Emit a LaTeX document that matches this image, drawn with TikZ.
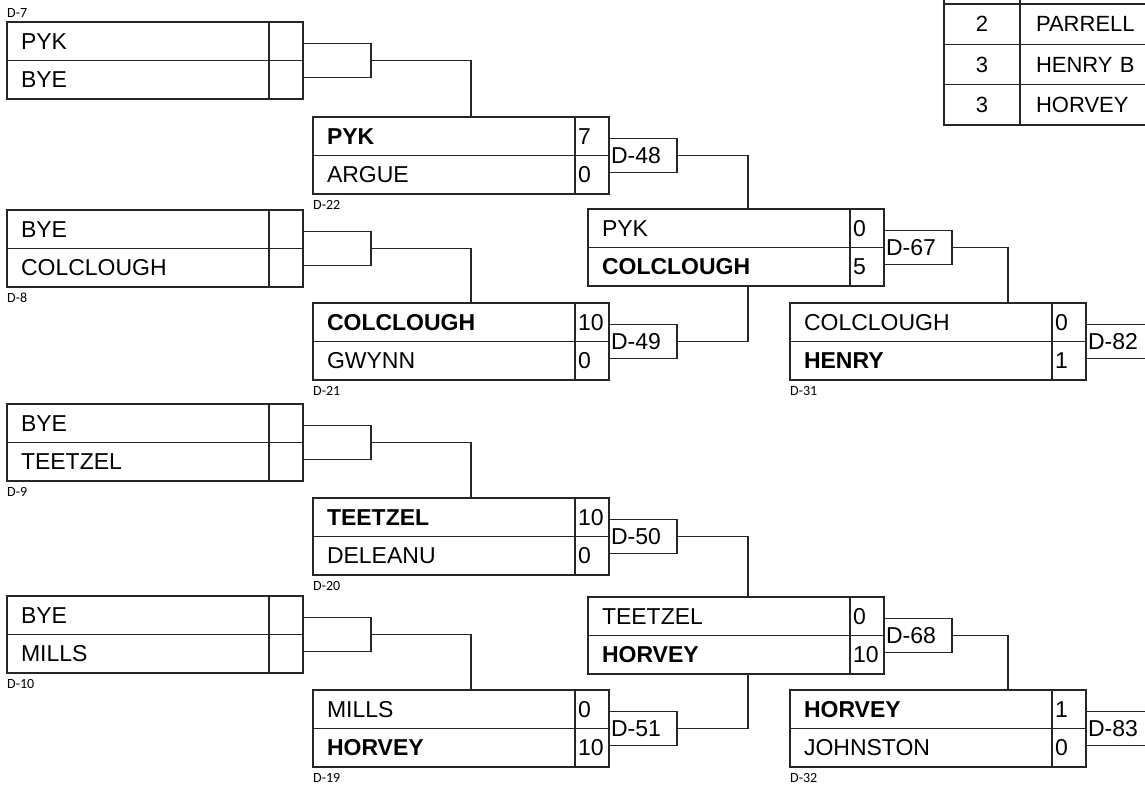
\documentclass[tikz,border=0pt]{standalone}
\usepackage{fontspec}
\setmainfont{Liberation Sans}
\newfontfamily\smallfont{Carlito}
\tikzset{
  line/.style={draw=black!85, line width=1.3pt},
  namecell/.style={line, rectangle, inner sep=0pt, outer sep=0pt, inner xsep=14pt, minimum height=38.5pt,
    text width=234pt, align=left, anchor=north west, font=\fontsize{23}{23}\selectfont},
  scorecell/.style={line, rectangle, inner sep=0pt, outer sep=0pt, inner xsep=3pt, minimum height=38.5pt,
    text width=28pt, align=left, anchor=north west, font=\fontsize{23}{23}\selectfont},
  labelbox/.style={line, rectangle, inner sep=0pt, outer sep=0pt, inner xsep=2pt, minimum height=34pt,
    text width=64pt, align=left, anchor=west, font=\fontsize{23}{23}\selectfont},
  mlabel/.style={inner sep=0pt, font=\smallfont\fontsize{14}{14}\selectfont},
  tcella/.style={line, rectangle, inner sep=0pt, outer sep=0pt, minimum width=76pt, minimum height=40.3pt,
    anchor=north west, font=\fontsize{22}{22}\selectfont},
  tcellb/.style={line, rectangle, inner sep=0pt, outer sep=0pt, inner xsep=16pt, minimum height=40.3pt,
    text width=200pt, align=left, anchor=north west, font=\fontsize{22}{22}\selectfont},
  conn/.style={line}
}
\newcommand\matchbox[8]{%
  \node[namecell] (#1-n1) at (#2,#3) {#4};
  \node[scorecell] (#1-s1) at (#1-n1.north east) {#5};
  \node[namecell] (#1-n2) at (#1-n1.south west) {#6};
  \node[scorecell] (#1-s2) at (#1-n2.north east) {#7};
  \node[labelbox] (#1-l) at (#1-s1.south east) {#8};
}
\begin{document}
\begin{tikzpicture}[x=1pt,y=-1pt]
\useasboundingbox (0,0) rectangle (1145,785);
\fill[white] (0,0) rectangle (1145,785);

% round 1
\matchbox{r1a}{7}{22}{PYK}{}{BYE}{}{}
\matchbox{r1b}{7}{210}{BYE}{}{COLCLOUGH}{}{}
\matchbox{r1c}{7}{404}{BYE}{}{TEETZEL}{}{}
\matchbox{r1d}{7}{596}{BYE}{}{MILLS}{}{}
% round 2
\matchbox{r2a}{313}{117}{\textbf{PYK}}{7}{ARGUE}{0}{D-48}
\matchbox{r2b}{313}{303}{\textbf{COLCLOUGH}}{10}{GWYNN}{0}{D-49}
\matchbox{r2c}{313}{498}{\textbf{TEETZEL}}{10}{DELEANU}{0}{D-50}
\matchbox{r2d}{313}{690}{MILLS}{0}{\textbf{HORVEY}}{10}{D-51}
% round 3
\matchbox{r3a}{588}{209}{PYK}{0}{\textbf{COLCLOUGH}}{5}{D-67}
\matchbox{r3b}{588}{597}{TEETZEL}{0}{\textbf{HORVEY}}{10}{D-68}
% round 4
\matchbox{r4a}{790}{303}{COLCLOUGH}{0}{\textbf{HENRY}}{1}{D-82}
\matchbox{r4b}{790}{690}{\textbf{HORVEY}}{1}{JOHNSTON}{0}{D-83}

% match labels
\node[mlabel, anchor=south west] (m7) at ([yshift=4pt]r1a-n1.north west) {D-7};
\node[mlabel, anchor=north west] (m8) at ([yshift=-6pt]r1b-n2.south west) {D-8};
\node[mlabel, anchor=north west] (m9) at ([yshift=-6pt]r1c-n2.south west) {D-9};
\node[mlabel, anchor=north west] (m10) at ([yshift=-6pt]r1d-n2.south west) {D-10};
\node[mlabel, anchor=north west] (m22) at ([yshift=-6pt]r2a-n2.south west) {D-22};
\node[mlabel, anchor=north west] (m21) at ([yshift=-6pt]r2b-n2.south west) {D-21};
\node[mlabel, anchor=north west] (m20) at ([yshift=-6pt]r2c-n2.south west) {D-20};
\node[mlabel, anchor=north west] (m19) at ([yshift=-6pt]r2d-n2.south west) {D-19};
\node[mlabel, anchor=north west] (m31) at ([yshift=-6pt]r4a-n2.south west) {D-31};
\node[mlabel, anchor=north west] (m32) at ([yshift=-6pt]r4b-n2.south west) {D-32};

% connector columns
\coordinate (v1) at (471,0);
\coordinate (v2) at (748,0);
\coordinate (v3) at (1008,0);

\draw[conn] (r1a-l.east) -| (v1 |- r2a-n1.north);
\draw[conn] (r1b-l.east) -| (v1 |- r2b-n1.north);
\draw[conn] (r1c-l.east) -| (v1 |- r2c-n1.north);
\draw[conn] (r1d-l.east) -| (v1 |- r2d-n1.north);
\draw[conn] (r2a-l.east) -| (v2 |- r3a-n1.north);
\draw[conn] (r2b-l.east) -| (v2 |- r3a-n2.south);
\draw[conn] (r2c-l.east) -| (v2 |- r3b-n1.north);
\draw[conn] (r2d-l.east) -| (v2 |- r3b-n2.south);
\draw[conn] (r3a-l.east) -| (v3 |- r4a-n1.north);
\draw[conn] (r3b-l.east) -| (v3 |- r4b-n1.north);

% standings table (top right, cut off)
\node[tcella] (t0a) at (944,-36.3) {};
\node[tcellb] (t0b) at (t0a.north east) {};
\node[tcella] (t1a) at (t0a.south west) {2};
\node[tcellb] (t1b) at (t1a.north east) {PARRELL};
\node[tcella] (t2a) at (t1a.south west) {3};
\node[tcellb] (t2b) at (t2a.north east) {HENRY B};
\node[tcella] (t3a) at (t2a.south west) {3};
\node[tcellb] (t3b) at (t3a.north east) {HORVEY};
\draw[draw=black!85, line width=2.8pt] (t0a.north west) -- (t3a.south west) -- (t3b.south east);
\end{tikzpicture}
\end{document}
